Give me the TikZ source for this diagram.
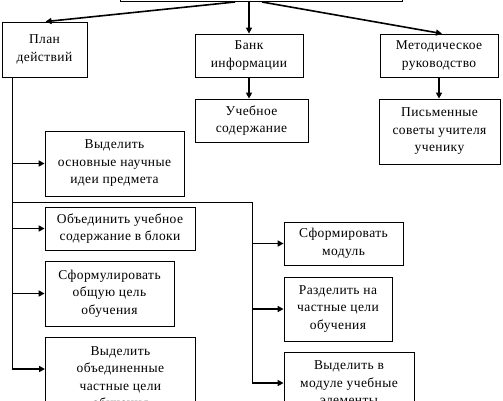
\documentclass[tikz,border=0pt]{standalone}
\usepackage{fontspec}
\setmainfont[LetterSpace=3]{Liberation Serif}
\usetikzlibrary{arrows.meta, positioning, calc}

\begin{document}
\begin{tikzpicture}[x=1pt, y=-1pt, >={Triangle[length=6pt, width=6pt]},
    box/.style={draw, line width=0.8pt, align=center, inner sep=0pt,
        font=\fontsize{13.5}{17.5}\selectfont},
    arr/.style={->, line width=1.6pt},
    trunk/.style={line width=0.8pt}]
    \useasboundingbox (0,0) rectangle (503,400);

    % top row
    \node[box, minimum width=282pt, minimum height=40pt, anchor=south] (top) at (261,2) {};
    \node[box, minimum width=85pt, minimum height=55pt] (plan) at (44.5,49.5) {План\\действий};
    \node[box, minimum width=108pt, minimum height=43pt] (bank) at (249,55.5) {Банк\\информации};
    \node[box, minimum width=118pt, minimum height=43pt] (metod) at (439,55.5) {Методическое\\руководство};
    \node[box, minimum width=113pt, minimum height=43pt] (uch) at (251.5,120.5) {Учебное\\содержание};
    \node[box, minimum width=121pt, minimum height=65pt] (pism) at (439.5,131.5) {Письменные\\советы учителя\\ученику};

    % left column
    \node[box, minimum width=139pt, minimum height=65pt] (idei) at (114.5,163.5) {Выделить\\основные научные\\идеи предмета};
    \node[box, minimum width=150pt, minimum height=43pt] (blok) at (120,228.5) {Объединить учебное\\содержание в блоки};
    \node[box, minimum width=129pt, minimum height=65pt] (cel) at (109.5,293.5) {Сформулировать\\общую цель\\обучения};
    \node[box, minimum width=150pt, minimum height=82pt, anchor=north west] (chast) at (45,337) {Выделить\\объединенные\\частные цели\\обучения};

    % right column
    \node[box, minimum width=119pt, minimum height=43pt] (modul) at (343.5,243.5) {Сформировать\\модуль};
    \node[box, minimum width=108pt, minimum height=64pt] (razd) at (338,309) {Разделить на\\частные цели\\обучения};
    \node[box, minimum width=130pt, minimum height=62pt] (elem) at (349,383) {Выделить в\\модуле учебные\\элементы};

    \coordinate (lx) at (12,0);
    \coordinate (rx) at (252,202);
    \coordinate (ch) at ($(chast.north west)+(0,32)$);

    % arrows from the top
    \draw[arr] ([xshift=-26pt]top.south) -- ([xshift=1pt]plan.north);
    \draw[arr] ([xshift=-12pt]top.south) -- (bank.north);
    \draw[arr] ([xshift=1pt]top.south) -- ([xshift=3pt]metod.north);
    \draw[arr] (bank.south) -- (bank.south |- uch.north);
    \draw[arr] (metod.south) -- (metod.south |- pism.north);

    % left trunk
    \draw[trunk] (plan.south -| lx) -- (lx |- ch);
    \foreach \n in {idei, blok, cel}
        \draw[arr] (lx |- \n.west) -- (\n.west);
    \draw[arr] (lx |- ch) -- (ch);

    % right branch
    \draw[trunk] (lx |- rx) -- (rx) -- (rx |- elem.west);
    \foreach \n in {modul, razd, elem}
        \draw[arr] (rx |- \n.west) -- (\n.west);
\end{tikzpicture}
\end{document}
